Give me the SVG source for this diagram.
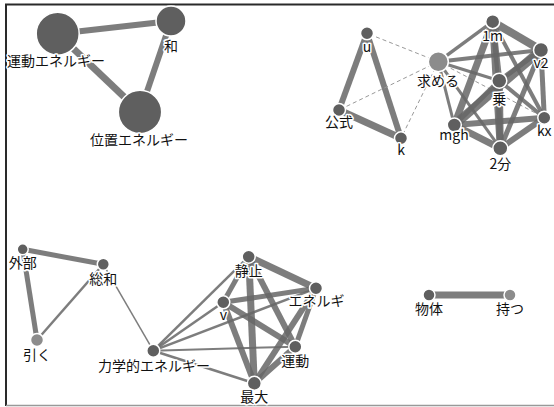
<svg xmlns="http://www.w3.org/2000/svg" width="554" height="407" viewBox="0 0 554 407">
<style>
.e{stroke:#666;stroke-opacity:0.85;fill:none;stroke-linecap:butt}
.d{stroke:#999;stroke-width:1;stroke-dasharray:4 3;fill:none}
.n{fill:#5f5f5f;stroke:#fff;stroke-width:1.5}
.l{fill:#8c8c8c;stroke:#fff;stroke-width:1.5}
text{font-family:"Noto Sans CJK JP","Noto Sans",sans-serif;font-size:14px;fill:#111;text-anchor:middle;paint-order:stroke;stroke:#fff;stroke-width:3px;stroke-linejoin:round}
</style>
<rect x="0" y="0" width="554" height="407" fill="#fff"/>
<line x1="5" y1="4.5" x2="554" y2="4.5" stroke="#2a2a2a" stroke-width="2"/>
<line x1="6" y1="4" x2="6" y2="406" stroke="#2a2a2a" stroke-width="2"/>
<line x1="6" y1="405.5" x2="554" y2="405.5" stroke="#999" stroke-width="1.5"/>
<g id="connectors">
<line class="e" x1="57.7" y1="33.7" x2="171" y2="21" stroke-width="6"/>
<line class="e" x1="57.7" y1="33.7" x2="140" y2="112" stroke-width="7"/>
<line class="e" x1="171" y1="21" x2="140" y2="112" stroke-width="6"/>
<line class="e" x1="367" y1="33.3" x2="339" y2="110" stroke-width="6"/>
<line class="e" x1="367" y1="33.3" x2="401" y2="138.3" stroke-width="6"/>
<line class="e" x1="339" y1="110" x2="401" y2="138.3" stroke-width="7"/>
<line class="d" x1="438.3" y1="61.7" x2="367" y2="33.3"/>
<line class="d" x1="438.3" y1="61.7" x2="339" y2="110"/>
<line class="d" x1="438.3" y1="61.7" x2="401" y2="138.3"/>
<line class="d" x1="438.3" y1="61.7" x2="544.3" y2="117.7"/>
<line class="e" x1="438.3" y1="61.7" x2="492.7" y2="21.7" stroke-width="3.5"/>
<line class="e" x1="438.3" y1="61.7" x2="541" y2="50" stroke-width="4"/>
<line class="e" x1="438.3" y1="61.7" x2="499.3" y2="80.7" stroke-width="3"/>
<line class="e" x1="438.3" y1="61.7" x2="454.3" y2="125" stroke-width="3"/>
<line class="e" x1="438.3" y1="61.7" x2="500.3" y2="148.3" stroke-width="3"/>
<line class="e" x1="492.7" y1="21.7" x2="541" y2="50" stroke-width="8"/>
<line class="e" x1="492.7" y1="21.7" x2="499.3" y2="80.7" stroke-width="6"/>
<line class="e" x1="492.7" y1="21.7" x2="500.3" y2="148.3" stroke-width="7"/>
<line class="e" x1="492.7" y1="21.7" x2="454.3" y2="125" stroke-width="7"/>
<line class="e" x1="492.7" y1="21.7" x2="544.3" y2="117.7" stroke-width="4"/>
<line class="e" x1="541" y1="50" x2="499.3" y2="80.7" stroke-width="5"/>
<line class="e" x1="541" y1="50" x2="454.3" y2="125" stroke-width="9"/>
<line class="e" x1="541" y1="50" x2="544.3" y2="117.7" stroke-width="5"/>
<line class="e" x1="541" y1="50" x2="500.3" y2="148.3" stroke-width="5"/>
<line class="e" x1="499.3" y1="80.7" x2="454.3" y2="125" stroke-width="5"/>
<line class="e" x1="499.3" y1="80.7" x2="544.3" y2="117.7" stroke-width="4"/>
<line class="e" x1="499.3" y1="80.7" x2="500.3" y2="148.3" stroke-width="7"/>
<line class="e" x1="454.3" y1="125" x2="544.3" y2="117.7" stroke-width="6"/>
<line class="e" x1="454.3" y1="125" x2="500.3" y2="148.3" stroke-width="7"/>
<line class="e" x1="544.3" y1="117.7" x2="500.3" y2="148.3" stroke-width="6"/>
<line class="e" x1="22.7" y1="249.3" x2="103.3" y2="264.3" stroke-width="5"/>
<line class="e" x1="22.7" y1="249.3" x2="37" y2="340" stroke-width="5"/>
<line class="e" x1="103.3" y1="264.3" x2="37" y2="340" stroke-width="2.5"/>
<line class="e" x1="103.3" y1="264.3" x2="153.3" y2="350.7" stroke-width="1.5"/>
<line class="e" x1="153.3" y1="350.7" x2="248.7" y2="256.7" stroke-width="2.5"/>
<line class="e" x1="153.3" y1="350.7" x2="223.3" y2="302.3" stroke-width="2.5"/>
<line class="e" x1="153.3" y1="350.7" x2="316" y2="288.3" stroke-width="2.5"/>
<line class="e" x1="153.3" y1="350.7" x2="295.3" y2="346.7" stroke-width="2"/>
<line class="e" x1="153.3" y1="350.7" x2="254.3" y2="383.3" stroke-width="2.5"/>
<line class="e" x1="248.7" y1="256.7" x2="316" y2="288.3" stroke-width="7"/>
<line class="e" x1="248.7" y1="256.7" x2="223.3" y2="302.3" stroke-width="5"/>
<line class="e" x1="248.7" y1="256.7" x2="295.3" y2="346.7" stroke-width="6"/>
<line class="e" x1="248.7" y1="256.7" x2="254.3" y2="383.3" stroke-width="7"/>
<line class="e" x1="223.3" y1="302.3" x2="316" y2="288.3" stroke-width="5"/>
<line class="e" x1="223.3" y1="302.3" x2="295.3" y2="346.7" stroke-width="6"/>
<line class="e" x1="223.3" y1="302.3" x2="254.3" y2="383.3" stroke-width="6"/>
<line class="e" x1="316" y1="288.3" x2="295.3" y2="346.7" stroke-width="5"/>
<line class="e" x1="316" y1="288.3" x2="254.3" y2="383.3" stroke-width="6"/>
<line class="e" x1="295.3" y1="346.7" x2="254.3" y2="383.3" stroke-width="6"/>
<line class="e" x1="429" y1="295" x2="510" y2="295" stroke-width="7"/>
</g>
<g id="n-undo"><circle class="n" cx="57.7" cy="33.7" r="21.5"/><text x="56" y="66">運動エネルギー</text></g>
<g id="n-wa"><circle class="n" cx="171" cy="21" r="15"/><text x="171" y="51">和</text></g>
<g id="n-ichi"><circle class="n" cx="140" cy="112" r="21.7"/><text x="139" y="145">位置エネルギー</text></g>
<g id="n-u"><circle class="n" cx="367" cy="33.3" r="6.5"/><text x="367" y="52">u</text></g>
<g id="n-koushiki"><circle class="n" cx="339" cy="110" r="6.5"/><text x="339" y="127">公式</text></g>
<g id="n-k"><circle class="n" cx="401" cy="138.3" r="6.5"/><text x="401" y="155">k</text></g>
<g id="n-motomeru"><circle class="l" cx="438.3" cy="61.7" r="10"/><text x="438" y="85.5">求める</text></g>
<g id="n-1m"><circle class="n" cx="492.7" cy="21.7" r="7"/><text x="492.7" y="41">1m</text></g>
<g id="n-v2"><circle class="n" cx="541" cy="50" r="7.5"/><text x="541" y="68">v2</text></g>
<g id="n-jou"><circle class="n" cx="499.3" cy="80.7" r="7.5"/><text x="499.3" y="103.5">乗</text></g>
<g id="n-kx"><circle class="n" cx="544.3" cy="117.7" r="6.5"/><text x="544.3" y="136">kx</text></g>
<g id="n-mgh"><circle class="n" cx="454.3" cy="125" r="7"/><text x="454" y="140">mgh</text></g>
<g id="n-2bun"><circle class="n" cx="500.3" cy="148.3" r="7.5"/><text x="500.3" y="168.5">2分</text></g>
<g id="n-gaibu"><circle class="n" cx="22.7" cy="249.3" r="5.5"/><text x="22.7" y="268">外部</text></g>
<g id="n-souwa"><circle class="n" cx="103.3" cy="264.3" r="6"/><text x="103.3" y="284">総和</text></g>
<g id="n-hiku"><circle class="l" cx="37" cy="340" r="6.5"/><text x="37" y="360">引く</text></g>
<g id="n-rikigaku"><circle class="n" cx="153.3" cy="350.7" r="6.5"/><text x="154" y="371">力学的エネルギー</text></g>
<g id="n-seishi"><circle class="n" cx="248.7" cy="256.7" r="6.5"/><text x="248.7" y="276">静止</text></g>
<g id="n-energi"><circle class="n" cx="316" cy="288.3" r="6.5"/><text x="316.5" y="306">エネルギ</text></g>
<g id="n-v"><circle class="n" cx="223.3" cy="302.3" r="6.5"/><text x="223.3" y="320">v</text></g>
<g id="n-undou"><circle class="n" cx="295.3" cy="346.7" r="6.5"/><text x="295.3" y="366">運動</text></g>
<g id="n-saidai"><circle class="n" cx="254.3" cy="383.3" r="7"/><text x="254.3" y="402">最大</text></g>
<g id="n-buttai"><circle class="n" cx="429" cy="295" r="6"/><text x="429" y="314">物体</text></g>
<g id="n-motsu"><circle class="l" cx="510" cy="295" r="6"/><text x="510" y="314">持つ</text></g>
</svg>
